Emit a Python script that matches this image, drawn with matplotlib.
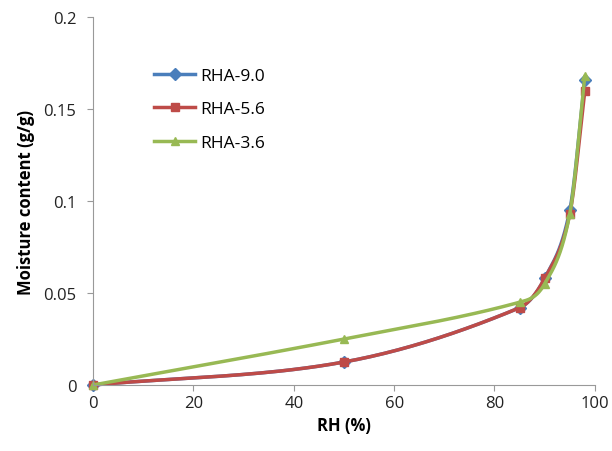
import numpy as np
import matplotlib
matplotlib.use('Agg')
import matplotlib.pyplot as plt

# data
rh = [0, 50, 85, 90, 95, 98]
rha_90 = [0, 0.0125, 0.042, 0.058, 0.095, 0.166]
rha_56 = [0, 0.0125, 0.042, 0.058, 0.093, 0.160]
rha_36 = [0, 0.025, 0.045, 0.055, 0.093, 0.168]
names = ['RHA-9.0', 'RHA-5.6', 'RHA-3.6']
colors = ['#4A7EBB', '#BE4B48', '#98B954']
markers = ['D', 's', '^']


# smoothed line through the points (catmull-rom style slopes, hermite cubic)
def smooth(x, y, n=40):
    x = np.asarray(x, float)
    y = np.asarray(y, float)
    m = np.empty_like(y)
    m[1:-1] = (y[2:] - y[:-2]) / (x[2:] - x[:-2])
    m[0] = (y[1] - y[0]) / (x[1] - x[0])
    m[-1] = (y[-1] - y[-2]) / (x[-1] - x[-2])
    t = np.linspace(0, 1, n)
    h00 = 2 * t ** 3 - 3 * t ** 2 + 1
    h10 = t ** 3 - 2 * t ** 2 + t
    h01 = -2 * t ** 3 + 3 * t ** 2
    h11 = t ** 3 - t ** 2
    xs, ys = [], []
    for i in range(len(x) - 1):
        h = x[i + 1] - x[i]
        xs.extend(x[i] + h * t)
        ys.extend(h00 * y[i] + h10 * h * m[i] + h01 * y[i + 1] + h11 * h * m[i + 1])
    return xs, ys


plt.rcParams['font.family'] = ['Open Sans', 'DejaVu Sans']
fig = plt.figure(figsize=(6.12, 4.52), dpi=100)
ax = fig.add_axes([0.152, 0.146, 0.820, 0.814])

for ys, name, c, m in zip([rha_90, rha_56, rha_36], names, colors, markers):
    sx, sy = smooth(rh, ys)
    ax.plot(sx, sy, color=c, lw=2.5, solid_capstyle='round', clip_on=False)
    ax.plot(rh, ys, ls='none', marker=m, color=c, ms=6, clip_on=False)
    ax.plot([], [], color=c, lw=2.5, marker=m, ms=6, label=name)

ax.set_xlim(0, 100)
ax.set_ylim(0, 0.2)
ax.set_xticks([0, 20, 40, 60, 80, 100])
ax.set_yticks([0, 0.05, 0.1, 0.15, 0.2])
ax.set_yticklabels(['0', '0.05', '0.1', '0.15', '0.2'])
ax.set_xlabel('RH (%)', fontsize=12, fontweight='bold', labelpad=3)
ax.set_ylabel('Moisture content (g/g)', fontsize=12, fontweight='bold', labelpad=6)
ax.tick_params(labelsize=12, colors='#999999', labelcolor='#222222', length=4, direction='out')
ax.tick_params(axis='y', pad=8)
for s in ['top', 'right']:
    ax.spines[s].set_visible(False)
for s in ['left', 'bottom']:
    ax.spines[s].set_color('#999999')
ax.legend(loc='upper left', bbox_to_anchor=(0.09, 0.905), frameon=False, fontsize=12.5,
          handlelength=2.4, handletextpad=0.3, labelspacing=1.0)

plt.savefig('out.png')
